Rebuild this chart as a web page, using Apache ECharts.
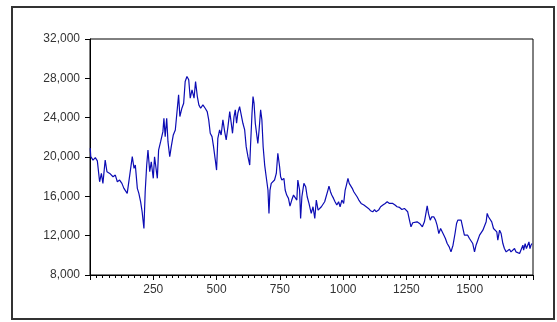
<!DOCTYPE html>
<html>
<head>
<meta charset="utf-8">
<script src="https://cdn.jsdelivr.net/npm/echarts@6/dist/echarts.min.js"></script>
<style>
  html, body { margin: 0; padding: 0; background: #fff; }
  #chart { width: 557px; height: 322px; }
</style>
</head>
<body>
<div id="chart"></div>
<script>
// Observation numbers and the series level at each of them
const obs = [
  1, 3, 12, 21, 29, 38, 45, 51, 60, 67, 78, 91, 100, 108, 117, 126, 134, 147, 157, 167,
  174, 179, 187, 193, 200, 206, 213, 218, 224, 229, 236, 242, 250, 255, 262, 266, 271, 279, 288, 292,
  297, 303, 308, 315, 321, 329, 337, 345, 350, 355, 363, 370, 376, 383, 390, 396, 403, 411, 417, 424,
  430, 437, 446, 455, 463, 469, 475, 482, 488, 495, 500, 505, 512, 518, 525, 532, 538, 545, 552, 558,
  563, 569, 574, 579, 584, 591, 597, 604, 611, 617, 624, 631, 634, 640, 644, 648, 653, 658, 663, 668,
  674, 679, 684, 690, 696, 703, 707, 711, 716, 722, 729, 736, 742, 749, 753, 758, 766, 771, 777, 784,
  790, 797, 804, 811, 817, 821, 828, 832, 837, 845, 852, 858, 865, 868, 874, 881, 888, 894, 901, 907,
  914, 920, 927, 934, 940, 944, 950, 955, 962, 968, 975, 982, 988, 995, 1002, 1008, 1013, 1019, 1024, 1029,
  1036, 1042, 1049, 1055, 1062, 1071, 1082, 1091, 1100, 1108, 1117, 1124, 1130, 1140, 1148, 1157, 1166, 1174, 1183, 1190,
  1196, 1205, 1213, 1223, 1232, 1242, 1249, 1255, 1262, 1268, 1275, 1282, 1292, 1302, 1306, 1313, 1321, 1328, 1332, 1337,
  1344, 1350, 1358, 1365, 1371, 1378, 1385, 1391, 1398, 1404, 1411, 1419, 1426, 1434, 1442, 1448, 1453, 1460, 1466, 1473,
  1479, 1486, 1492, 1499, 1505, 1512, 1519, 1525, 1532, 1539, 1545, 1552, 1558, 1565, 1569, 1574, 1580, 1587, 1594, 1600,
  1607, 1611, 1618, 1624, 1631, 1637, 1644, 1650, 1657, 1663, 1670, 1677, 1683, 1690, 1697, 1703, 1710, 1713, 1719, 1724,
  1729, 1734, 1738, 1742, 1746
];
const level = [
  20900, 20030, 19690, 19930, 19600, 17480, 18340, 17320, 19690, 18500, 18330, 17990, 18160, 17480, 17650, 17320, 16810, 16300, 18160, 20030,
  18840, 19180, 16810, 16300, 15440, 14420, 12730, 16460, 19180, 20710, 18500, 19520, 17830, 20030, 20200, 17830, 20710, 21560, 22580, 23940,
  22070, 23940, 21560, 20030, 21050, 22240, 22750, 24960, 26320, 24110, 24960, 25470, 27680, 28190, 27850, 25980, 26830, 25980, 27680, 26150,
  25300, 24960, 25300, 24960, 24620, 23770, 22410, 22070, 21050, 19690, 18670, 21900, 22750, 22240, 23770, 22580, 21730, 23090, 24620, 23430,
  22410, 24110, 24790, 23430, 24450, 25130, 24960, 23430, 22750, 21050, 20030, 19180, 21050, 24450, 26150, 25470, 23430, 22410, 21390, 22750,
  24790, 23770, 21050, 19180, 17990, 16640, 14260, 16640, 17320, 17150, 17660, 18330, 20380, 19010, 17990, 17660, 17830, 16640, 16130, 15790,
  15000, 15620, 16130, 16300, 15620, 17660, 16640, 13750, 15960, 17320, 16980, 15960, 15280, 15450, 14260, 14940, 13750, 15620, 14600, 14430,
  14940, 14770, 15450, 15450, 16640, 17040, 16470, 16130, 15790, 15450, 15110, 15450, 14940, 15620, 15280, 16640, 17150, 17830, 17320, 17150,
  16810, 16470, 16300, 15960, 15620, 15280, 15110, 14940, 14770, 14540, 14430, 14660, 14430, 14600, 14940, 15110, 15280, 15450, 15280, 15110,
  15280, 15110, 14940, 14870, 14660, 14770, 14600, 14430, 13580, 12900, 13310, 13170, 13410, 13240, 13240, 12900, 13410, 14430, 15040, 14260,
  13580, 13920, 13920, 13580, 13070, 12220, 12730, 12900, 12050, 11710, 11200, 10860, 10350, 11030, 12220, 13240, 13580, 13410, 13580, 13410,
  12050, 11880, 12050, 11710, 11540, 11200, 10350, 11030, 11540, 12050, 11880, 12560, 12730, 13410, 14260, 13920, 13750, 13410, 12730, 12560,
  12390, 11540, 12560, 12220, 11200, 10690, 10350, 10520, 10620, 10350, 10520, 10690, 10350, 10520, 10180, 10010, 11030, 10520, 11200, 10690,
  11030, 11370, 10690, 11030, 11200
];

// Axis ranges and tick steps
const xRange = [0, 1750];
const xStep = 250;
const yRange = [8000, 32000];
const yStep = 4000;

const points = obs.map((o, i) => [o, level[i]]);

const chart = echarts.init(document.getElementById('chart'), null, { renderer: 'canvas' });
const labelFont = { fontFamily: '"Liberation Sans", Arial, sans-serif', fontSize: 12, color: '#333' };

chart.setOption({
  animation: false,
  backgroundColor: '#fff',
  graphic: [{
    type: 'rect',
    shape: { x: 12, y: 7, width: 542, height: 312 },
    style: { fill: 'none', stroke: '#333', lineWidth: 2 },
    silent: true
  }],
  grid: {
    left: 90, right: 24, top: 39, bottom: 47,
    show: true, borderColor: '#000', borderWidth: 1, backgroundColor: '#fff'
  },
  xAxis: {
    type: 'value',
    min: xRange[0], max: xRange[1], interval: xStep,
    axisLine: { show: true, lineStyle: { color: '#000', width: 1 } },
    axisTick: { show: true, inside: false, length: 5, lineStyle: { color: '#000' } },
    minorTick: { show: true, splitNumber: 10, length: 3, lineStyle: { color: '#000' } },
    splitLine: { show: false },
    axisLabel: {
      ...labelFont, margin: 9,
      formatter: v => (v === xRange[0] || v === xRange[1]) ? '' : String(v)
    }
  },
  yAxis: {
    type: 'value',
    min: yRange[0], max: yRange[1], interval: yStep,
    axisLine: { show: true, lineStyle: { color: '#000', width: 1 } },
    axisTick: { show: true, inside: false, length: 5, lineStyle: { color: '#000' } },
    splitLine: { show: false },
    axisLabel: {
      ...labelFont, margin: 10,
      formatter: v => v.toLocaleString('en-US')
    }
  },
  series: [{
    type: 'line',
    data: points,
    showSymbol: false,
    lineStyle: { color: '#0c0cb4', width: 1.2 },
    itemStyle: { color: '#0c0cb4' }
  }]
});
</script>
</body>
</html>
